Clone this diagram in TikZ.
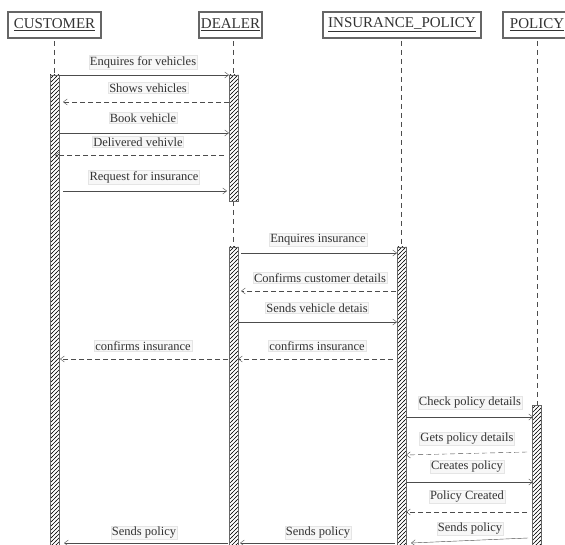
\documentclass[tikz,border=0pt]{standalone}
\usepackage{fontspec}
\setmainfont{Liberation Serif}
\usepackage{tikz}
\usetikzlibrary{arrows.meta, patterns}
\definecolor{lineGray}{gray}{0.3}
\definecolor{boxGray}{gray}{0.4}
\definecolor{textGray}{gray}{0.2}

% coarse hatching for the activation bars
\pgfdeclarepatternformonly{hatch}{\pgfpoint{-1pt}{-1pt}}{\pgfpoint{5pt}{5pt}}{\pgfpoint{4pt}{4pt}}{
	\pgfsetlinewidth{0.6pt}
	\pgfpathmoveto{\pgfpoint{-0.5pt}{-0.5pt}}
	\pgfpathlineto{\pgfpoint{4.5pt}{4.5pt}}
	\pgfusepath{stroke}}

\begin{document}
\begin{tikzpicture}[x=1pt, y=-1pt,
	head/.style={draw=boxGray, line width=1.1pt, minimum height=26pt, inner sep=0pt, text=textGray, font=\fontsize{15}{17}\selectfont},
	life/.style={lineGray, dashed, dash pattern=on 5pt off 4pt, thin},
	bar/.style={draw=boxGray, line width=0.8pt, pattern=hatch, pattern color=black},
	msg/.style={lineGray, thin, -{Straight Barb[length=4pt, width=6pt]}},
	ret/.style={msg, dash pattern=on 5pt off 3pt},
	lbl/.style={fill=gray!6, draw=gray!20, inner sep=1pt, text=textGray, font=\fontsize{12.5}{14}\selectfont}]

	\useasboundingbox (0,0) rectangle (565,545);

	% header boxes
	\node[head, minimum width=93pt] (cust) at (54.5,25) {\underline{CUSTOMER}};
	\node[head, minimum width=63pt] (deal) at (230.5,25) {\underline{DEALER}};
	\node[head, minimum width=158pt] (ins) at (402,25) {\underline{INSURANCE\_POLICY}};
	\node[head, minimum width=68pt] (pol) at (537,25) {\underline{POLICY}};

	% lifelines
	\draw[life] (54.5,41) -- (54.5,75);
	\draw[life] (233.5,41) -- (233.5,75);
	\draw[life] (233.5,201) -- (233.5,247);
	\draw[life] (401.5,41) -- (401.5,247);
	\draw[life] (537,41) -- (537,405);

	% activation bars
	\draw[bar] (50,75) rectangle (59,547);
	\draw[bar] (229,75) rectangle (238,201);
	\draw[bar] (229,247) rectangle (238,547);
	\draw[bar] (397,247) rectangle (406,547);
	\draw[bar] (532,405) rectangle (541,547);

	% CUSTOMER -- DEALER
	\draw[msg] (59,75) -- (229,75);
	\node[lbl] (m1) at (143,62) {Enquires for vehicles};
	\draw[ret] (229,102) -- (63,102);
	\node[lbl] (m2) at (148,88) {Shows vehicles};
	\draw[msg] (59,133) -- (229,133);
	\node[lbl] (m3) at (143,118) {Book vehicle};
	\draw[ret] (224,155) -- (55,155);
	\node[lbl] (m4) at (138,142) {Delivered vehivle};
	\draw[msg] (63,191) -- (227,191);
	\node[lbl] (m5) at (144,177) {Request for insurance};

	% DEALER -- INSURANCE_POLICY
	\draw[msg] (241,253) -- (397,253);
	\node[lbl] (m6) at (318,240) {Enquires insurance};
	\draw[ret] (396,291) -- (241,291);
	\node[lbl] (m7) at (320,278) {Confirms customer details};
	\draw[msg] (238,322) -- (397,322);
	\node[lbl] (m8) at (317,308) {Sends vehicle detais};
	\draw[ret] (393,359) -- (238,359);
	\node[lbl] (m9) at (317,346) {confirms insurance};
	\draw[ret] (228,359) -- (60,359);
	\node[lbl] (m10) at (143,346) {confirms insurance};

	% INSURANCE_POLICY -- POLICY
	\draw[msg] (406,417) -- (533,417);
	\node[lbl] (m11) at (470,403) {Check policy details};
	\draw[ret] (527,452) -- (406,455);
	\node[lbl] (m12) at (467,439) {Gets policy details};
	\draw[msg] (406,482) -- (533,482);
	\node[lbl] (m13) at (467,467) {Creates policy};
	\draw[ret] (527,512) -- (406,512);
	\node[lbl] (m14) at (467,497) {Policy Created};

	% policy sent back
	\draw[msg] (528,538) -- (411,543);
	\node[lbl] (m15) at (470,529) {Sends policy};
	\draw[msg] (395,543) -- (240,543);
	\node[lbl] (m16) at (318,533) {Sends policy};
	\draw[msg] (228,543) -- (64,543);
	\node[lbl] (m17) at (144,533) {Sends policy};

\end{tikzpicture}
\end{document}
